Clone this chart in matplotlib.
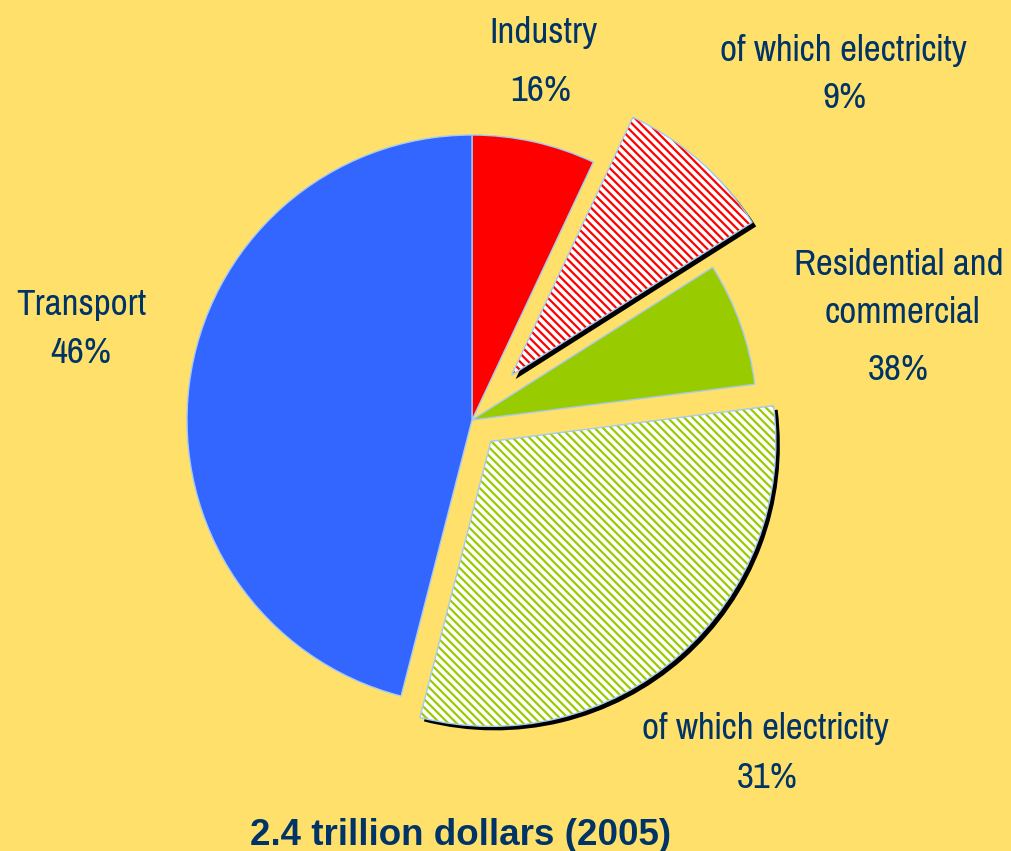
import numpy as np
import matplotlib.pyplot as plt
from matplotlib.patches import Wedge

# parts of the pie, clockwise from 12 o'clock
segments = ["Industry", "Industry electricity", "Residential and commercial",
            "Residential electricity", "Transport"]
shares = [7, 9, 7, 31, 46]
total_label = "2.4 trillion dollars (2005)"

industry_total = shares[0] + shares[1]
residential_total = shares[2] + shares[3]

W, H = 1011, 851
cx, cy, R = 472, 420, 285      # pie centre / radius in pixels

bg = "#FFE06B"
txt_col = "#003366"
edge_col = "#A6CAF0"
red, green, blue = "#FF0000", "#99CC00", "#3366FF"

plt.rcParams["hatch.linewidth"] = 1.6

fig = plt.figure(figsize=(W / 100, H / 100), dpi=100, facecolor=bg)
ax = fig.add_axes([0, 0, 1, 1])
ax.set_facecolor(bg)

colors = [red, "white", green, "white", blue]
explode = [0, 0.21, 0, 0.1, 0]
wedges, _ = ax.pie(shares, colors=colors, startangle=90, counterclock=False,
                   explode=explode, radius=1,
                   wedgeprops=dict(edgecolor=edge_col, linewidth=1))

# hatched electricity slices with a black drop shadow
hatch_col = {1: red, 3: green}
sh = 4 / R
for i, hc in hatch_col.items():
    w = wedges[i]
    x0, y0 = w.center
    shadow = Wedge((x0 + sh, y0 - sh), w.r, w.theta1, w.theta2,
                   facecolor="black", edgecolor="none", zorder=w.get_zorder() - 0.5)
    ax.add_patch(shadow)
    w.set_facecolor("white")
    w.set_edgecolor(hc)
    w.set_hatch("\\\\\\\\")
    w.set_linewidth(0)
    outline = Wedge((x0, y0), w.r, w.theta1, w.theta2, facecolor="none",
                    edgecolor=edge_col, linewidth=1, zorder=w.get_zorder() + 0.1)
    ax.add_patch(outline)

ax.set_xlim(-cx / R, (W - cx) / R)
ax.set_ylim(-(H - cy) / R, cy / R)
ax.axis("off")

font = ["Pragati Narrow", "Archivo Narrow", "Roboto Condensed", "Liberation Sans", "DejaVu Sans"]


def label(x, y, s, **kw):
    fig.text(x / W, 1 - y / H, s, ha="center", va="baseline", color=txt_col,
             fontsize=29, family=font, **kw)


label(543, 43, "Industry")
label(541, 101, f"{industry_total}%")
label(843, 61, "of which electricity")
label(845, 108, f"{shares[1]}%")
label(899, 275, "Residential and")
label(902, 323, "commercial")
label(898, 380, f"{residential_total}%")
label(81, 315, "Transport")
label(81, 363, f"{shares[4]}%")
label(765, 739, "of which electricity")
label(767, 788, f"{shares[3]}%")

fig.text(461 / W, 1 - 845 / H, total_label, ha="center", va="baseline",
         color=txt_col, fontsize=26.5, fontweight="bold",
         family=["Liberation Sans", "DejaVu Sans"])

fig.savefig("out.png", dpi=100, facecolor=bg)
